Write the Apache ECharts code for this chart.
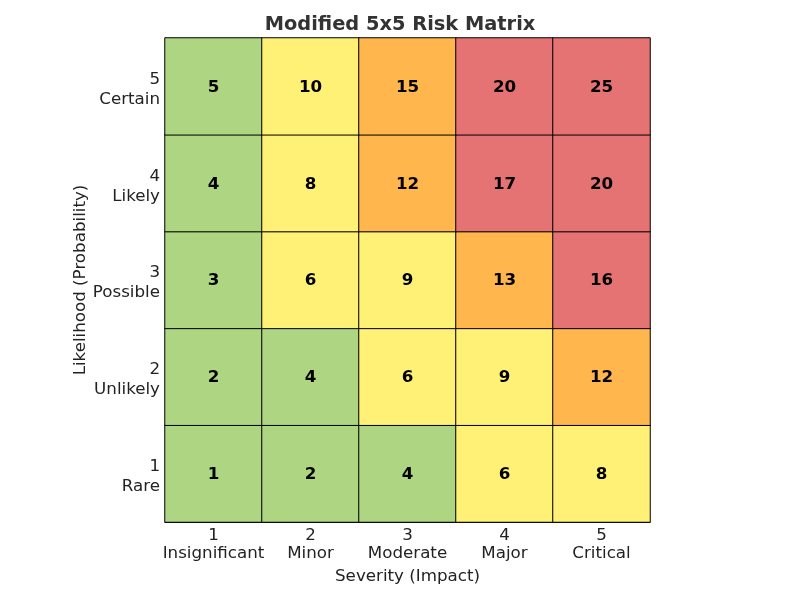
<!DOCTYPE html>
<html><head><meta charset="utf-8">
<script src="https://cdn.jsdelivr.net/npm/echarts@6/dist/echarts.min.js"></script>
<style>html,body{margin:0;padding:0;background:#fff}#c{width:800px;height:600px}</style>
</head><body><div id="c"></div>
<script>
const severityLabels = ['1\nInsignificant', '2\nMinor', '3\nModerate', '4\nMajor', '5\nCritical'];
const likelihoodLabels = ['1\nRare', '2\nUnlikely', '3\nPossible', '4\nLikely', '5\nCertain'];
// rows from likelihood 1 (bottom) to 5 (top), columns severity 1..5
const row1 = [1, 2, 4, 6, 8];
const row2 = [2, 4, 6, 9, 12];
const row3 = [3, 6, 9, 13, 16];
const row4 = [4, 8, 12, 17, 20];
const row5 = [5, 10, 15, 20, 25];
const rows = [row1, row2, row3, row4, row5];

const data = [];
rows.forEach((r, yi) => r.forEach((v, xi) => data.push([xi, yi, v])));

const font = 'DejaVu Sans';
const fs = 16.7;
const chart = echarts.init(document.getElementById('c'));
chart.setOption({
  animation: false,
  textStyle: { fontFamily: font },
  title: {
    text: 'Modified 5x5 Risk Matrix', left: 'center', top: 10,
    textStyle: { fontFamily: font, fontWeight: 'bold', fontSize: 19.4, color: '#333' }
  },
  grid: { left: 165, right: 150, top: 38, bottom: 78 },
  xAxis: {
    type: 'category', data: severityLabels,
    name: 'Severity (Impact)', nameLocation: 'middle', nameGap: 44,
    nameTextStyle: { fontFamily: font, fontSize: fs, color: '#222' },
    axisLine: { show: true, lineStyle: { color: '#000', width: 1 } },
    axisTick: { show: true, inside: true, length: 4, alignWithLabel: true, lineStyle: { color: '#333' } },
    axisLabel: { interval: 0, fontFamily: font, fontSize: fs, color: '#222', lineHeight: 18, margin: 5 },
    splitArea: { show: false }
  },
  yAxis: {
    type: 'category', data: likelihoodLabels,
    name: 'Likelihood (Probability)', nameLocation: 'middle', nameGap: 76, nameRotate: 90,
    nameMoveOverlap: false,
    nameTextStyle: { fontFamily: font, fontSize: fs, color: '#222' },
    axisLine: { show: true, lineStyle: { color: '#000', width: 1 } },
    axisTick: { show: true, inside: true, length: 4, alignWithLabel: true, lineStyle: { color: '#333' } },
    axisLabel: {
      interval: 0, fontFamily: font, fontSize: fs, color: '#222', margin: 5, align: 'right',
      formatter: v => { const p = v.split('\n'); return '{p|' + p[0] + '}\n{n|' + p[1] + '}'; },
      rich: {
        p: { fontFamily: font, fontSize: fs, color: '#222', lineHeight: 19, padding: [5, 0, 0, 0], align: 'right' },
        n: { fontFamily: font, fontSize: fs, color: '#222', lineHeight: 19, padding: [7, 0, 0, 0], align: 'right' }
      }
    },
    splitArea: { show: false }
  },
  visualMap: {
    show: false, type: 'piecewise', dimension: 2,
    pieces: [
      { lte: 5, color: '#aed581' },
      { gt: 5, lte: 10, color: '#fff176' },
      { gt: 10, lte: 15, color: '#ffb74d' },
      { gt: 15, color: '#e57373' }
    ]
  },
  series: [{
    type: 'heatmap', data: data,
    itemStyle: { borderColor: '#000', borderWidth: 1 },
    label: { show: true, fontFamily: font, fontWeight: 'bold', fontSize: fs, color: '#000', offset: [0, 1] },
    emphasis: { disabled: true }
  }]
});
</script></body></html>
